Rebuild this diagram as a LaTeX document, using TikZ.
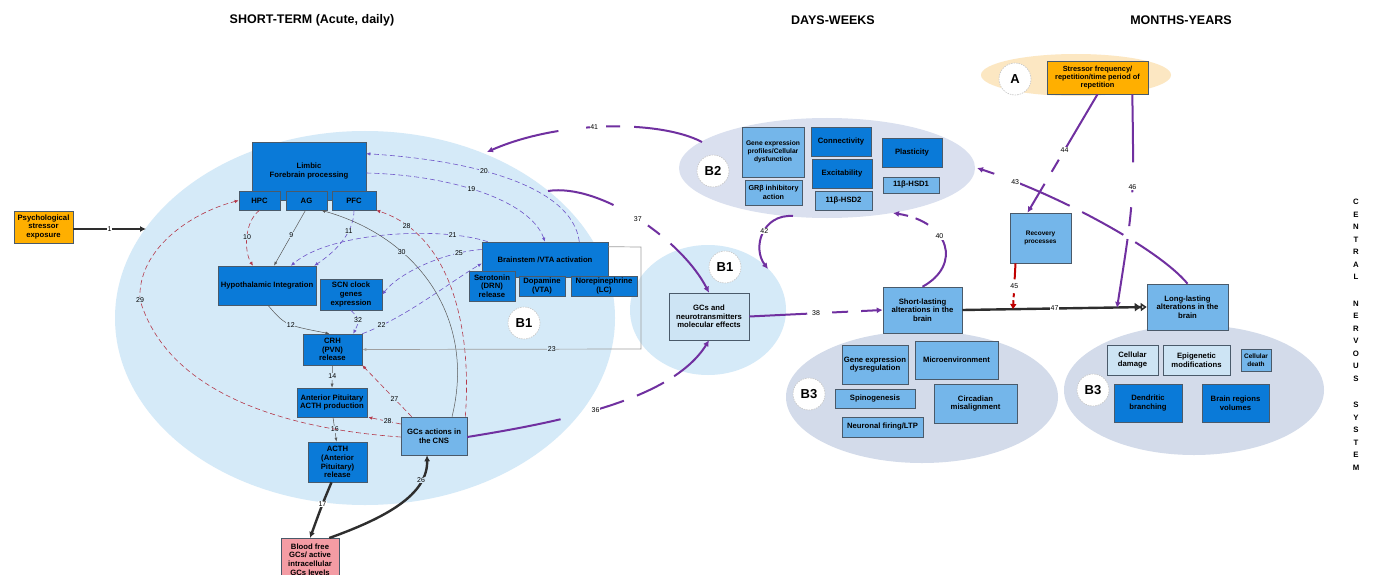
\documentclass[tikz,border=0pt]{standalone}
\usepackage{fontspec}
\setmainfont{Liberation Sans}
\usetikzlibrary{arrows.meta,calc,shapes.geometric}
\definecolor{dkb}{HTML}{0A7AD8}
\definecolor{ltb}{HTML}{74B6EA}
\definecolor{plb}{HTML}{CDE4F4}
\definecolor{ellbg}{HTML}{D5EAF8}
\definecolor{ellgr}{HTML}{DAE0EF}
\definecolor{ellgrb}{HTML}{D3DBEA}
\definecolor{ellor}{HTML}{FCE7C2}
\definecolor{orng}{HTML}{FFAF00}
\definecolor{pnk}{HTML}{F49CA4}
\definecolor{tpur}{HTML}{7030A0}
\definecolor{lpur}{HTML}{6F55C8}
\definecolor{rdash}{HTML}{B5394A}
\definecolor{rdk}{HTML}{C00000}
\definecolor{dkln}{HTML}{2E2E2E}
\definecolor{boxln}{HTML}{4A5A6A}
\begin{document}
\begin{tikzpicture}[x=1pt,y=-1pt,
 bx/.style={draw=boxln, line width=0.6pt, inner sep=1pt, align=center, font=\bfseries\fontsize{7.7}{8.7}\selectfont},
 dk/.style={bx, fill=dkb},
 lt/.style={bx, fill=ltb},
 pl/.style={bx, fill=plb},
 sz/.style 2 args={minimum width=#1pt, minimum height=#2pt},
 bc/.style={circle, fill=white, draw=gray!45, dash pattern=on 1.5pt off 1pt, line width=0.6pt, minimum size=32pt, inner sep=0pt, font=\bfseries\fontsize{13}{13}\selectfont},
 bgell/.style={ellipse, inner sep=0pt},
 lbl/.style={font=\fontsize{7}{7}\selectfont, inner sep=0.6pt},
 lw/.style={lbl, fill=white},
 lb/.style={lbl, fill=ellbg},
 thn/.style={draw=dkln!80, line width=0.5pt, -{Latex[length=4pt,width=3pt]}},
 pdash/.style={draw=lpur, line width=0.6pt, dash pattern=on 5pt off 3pt, -{Latex[length=4pt,width=3.5pt]}},
 rdsh/.style={draw=rdash, line width=0.6pt, dash pattern=on 5pt off 3pt, -{Latex[length=4pt,width=3.5pt]}},
 thk/.style={draw=dkln, line width=2.4pt, -{Latex[length=6pt,width=6pt]}},
 tp/.style={draw=tpur, line width=2pt, -{Latex[length=6pt,width=6pt]}},
 hdr/.style={font=\bfseries\fontsize{12.5}{12.5}\selectfont}
]
\useasboundingbox (0,0) rectangle (1375,575);
\fill[white] (0,0) rectangle (1375,575);

% background ellipses
\node[bgell, fill=ellbg, sz={500}{374}] (E0) at (365,318) {};
\node[bgell, fill=ellbg, sz={156}{130}] (E1) at (708,310) {};
\node[bgell, fill=ellgr, sz={296}{100}] (E2) at (827,168) {};
\node[bgell, fill=ellgrb, sz={272}{132}] (E3) at (922,397) {};
\node[bgell, fill=ellgrb, sz={260}{130}] (E4) at (1194,390) {};
\node[bgell, fill=ellor, sz={190}{42}] (EA) at (1076,75) {};

% headers
\node[hdr] (h1) at (312,20) {SHORT-TERM (Acute, daily)};
\node[hdr] (h2) at (833,20) {DAYS-WEEKS};
\node[hdr] (h3) at (1181,20) {MONTHS-YEARS};

% short-term nodes
\node[bx, fill=orng, sz={59}{32}] (psych) at (43.5,227) {Psychological\\stressor\\exposure};
\node[dk, sz={114}{58}] (limbic) at (309,171) {Limbic\\Forebrain processing};
\node[dk, sz={41}{19}] (hpc) at (259.5,200.5) {HPC};
\node[dk, sz={41}{19}] (ag) at (306.5,200.5) {AG};
\node[dk, sz={44}{19}] (pfc) at (354,200.5) {PFC};
\node[dk, sz={98}{39}] (hyp) at (267,285.5) {Hypothalamic Integration};
\node[dk, sz={62}{31}] (scn) at (351,294.5) {SCN clock\\genes\\expression};
\node[dk, sz={59}{31}] (crh) at (332.5,349.5) {CRH\\(PVN)\\release};
\node[dk, sz={70}{29}] (ap) at (332,402.5) {Anterior Pituitary\\ACTH production};
\node[dk, sz={59}{40}] (acth) at (337.5,462) {ACTH\\(Anterior\\Pituitary)\\release};
\node[lt, sz={66}{38}] (gcs) at (434,436) {GCs actions in\\the CNS};
\node[bx, fill=pnk, sz={58}{42}, anchor=north] (blood) at (310,538) {Blood free\\GCs/ active\\intracellular\\GCs levels};
\node[dk, sz={126}{35}] (brain) at (545,259.5) {\raisebox{-3pt}{Brainstem /VTA activation}};
\node[dk, sz={46}{30}] (ser) at (492,286) {Serotonin\\(DRN)\\release};
\node[dk, sz={46}{20}] (dop) at (542,286) {Dopamine\\(VTA)};
\node[dk, sz={66}{20}] (nor) at (604,286) {Norepinephrine\\(LC)};
\node[bc] (cba) at (524,323) {B1};

% B1
\node[bc] (cbb) at (725,267) {B1};
\node[pl, sz={80}{47}] (gcnt) at (709,316.5) {GCs and\\neurotransmitters\\molecular effects};

% B2
\node[bc] (cb2) at (713,171) {B2};
\node[lt, sz={62}{50}, font=\bfseries\fontsize{6.7}{8.2}\selectfont] (gep) at (773,152) {Gene expression\\profiles/Cellular\\dysfunction};
\node[lt, sz={57}{25}, inner sep=0.5pt, font=\bfseries\fontsize{7.2}{8.4}\selectfont] (grb) at (773.5,192.5) {GRβ inhibitory\\action};
\node[dk, sz={60}{29}] (conn) at (841,141.5) {Connectivity};
\node[dk, sz={60}{29}] (exc) at (842,173.5) {Excitability};
\node[lt, sz={57}{19}] (hsd2) at (843.5,200.5) {11β-HSD2};
\node[dk, sz={60}{29}] (plast) at (912,152.5) {Plasticity};
\node[lt, sz={56}{16}] (hsd1) at (911,185) {11β-HSD1};

% B3 middle
\node[lt, sz={79}{46}] (short) at (922.5,310) {Short-lasting\\alterations in the\\brain};
\node[bc] (cb3a) at (809,394) {B3};
\node[lt, sz={66}{39}] (ged) at (875,364.5) {Gene expression\\dysregulation};
\node[lt, sz={83}{38}] (micro) at (956.5,360) {Microenvironment};
\node[lt, sz={80}{19}] (spino) at (875,398.5) {Spinogenesis};
\node[lt, sz={83}{39}] (circ) at (975.5,403.5) {Circadian\\misalignment};
\node[lt, sz={81}{20}] (neur) at (882.5,427) {Neuronal firing/LTP};

% B3 right
\node[lt, sz={81}{46}] (long) at (1187.5,307) {Long-lasting\\alterations in the\\brain};
\node[bc] (cb3b) at (1093,390) {B3};
\node[pl, sz={51}{30}] (cdam) at (1132.5,360) {Cellular\\damage};
\node[pl, sz={67}{30}] (epi) at (1196.5,360) {Epigenetic\\modifications};
\node[lt, sz={30}{22}, inner sep=0.5pt, font=\bfseries\fontsize{6.5}{7.6}\selectfont] (cdeath) at (1256,360) {Cellular\\death};
\node[dk, sz={68}{38}] (dend) at (1148,403) {Dendritic\\branching};
\node[dk, sz={67}{38}] (brv) at (1235.5,403) {Brain regions\\volumes};

% A
\node[bc] (cA) at (1015,79) {A};
\node[bx, fill=orng, sz={101}{33}, font=\bfseries\fontsize{7.4}{8.4}\selectfont] (stress) at (1097.5,77.5) {Stressor frequency/\\repetition/time period of\\repetition};
\node[lt, sz={61}{50}, font=\bfseries\fontsize{6.5}{8}\selectfont] (recov) at (1040.5,238) {Recovery\\processes};

% CNS text
\node[anchor=north, inner sep=0pt, align=center, font=\bfseries\fontsize{7.8}{12.5}\selectfont] (cns) at (1356,199) {C\\E\\N\\T\\R\\A\\L\\[14pt]N\\E\\R\\V\\O\\U\\S\\[14pt]S\\Y\\S\\T\\E\\M};

% free connector ends
\coordinate (c1) at (146,229);
\coordinate (c37) at (548,191);
\coordinate (c41s) at (702,142);
\coordinate (c41e) at (487,152);
\coordinate (c42s) at (793,216);
\coordinate (c42e) at (768,269);
\coordinate (c40) at (893,213);
\coordinate (c43) at (977,168);
\coordinate (c45) at (1013,309);
\coordinate (c46) at (1117,308);

% connectors short-term
\draw[thk] ($(psych.east)+(0,2)$) -- node[lw]{1} (c1);
\draw[thn] ($(ag.south)+(-1,0)$) -- node[lb, pos=0.45]{9} ($(hyp.north)+(7,0)$);
\draw[rdsh] (hpc.south) .. controls (244,222) and (244,252) .. node[lb,pos=0.5]{10} ($(hyp.north)+(-14,0)$);
\draw[pdash] (pfc.south) .. controls (354,235) and (332,254) .. node[lb,pos=0.3]{11} ($(hyp.north east)+(-2,0)$);
\draw[thn] ($(hyp.south)+(1,0)$) .. controls (285,325) .. node[lb,pos=0.55]{12} ($(crh.north)+(-3,0)$);
\draw[pdash] (scn.south) .. controls (360,320) .. node[lb,pos=0.5]{32} ($(crh.north east)+(-9,0)$);
\draw[thn] (crh.south) -- node[lb]{14} (ap.north);
\draw[thn] ($(ap.south)+(1,0)$) -- node[lb]{16} ($(acth.north)+(-1,0)$);
\draw[pdash] (crh.north east) .. controls (405,318) and (450,282) .. node[lb,pos=0.15]{22} ($(brain.west)+(0,4)$);
\draw[pdash] ($(brain.west)+(0,-10)$) .. controls (445,252) and (400,272) .. node[lb,pos=0.2]{25} (scn.east);
\draw[pdash] ($(brain.north west)+(6,0)$) .. controls (440,226) and (330,232) .. node[lb,pos=0.2]{21} ($(hyp.north)+(24,0)$);
\draw[pdash] ($(limbic.east)+(0,2)$) .. controls (450,175) and (530,200) .. node[lb,pos=0.45]{19} (brain.north);
\draw[pdash] ($(brain.north east)+(-29,0)$) .. controls (572,185) and (470,160) .. node[lb,pos=0.6]{20} ($(limbic.north east)+(0,12)$);
\draw[rdsh] ($(gcs.north east)+(-2,0)$) .. controls (472,330) and (452,235) .. node[lb,pos=0.85]{28} (pfc.south east);
\draw[thn] ($(gcs.north)+(18,0)$) .. controls (476,320) and (420,238) .. node[lb,pos=0.68]{30} ($(ag.south east)+(-6,0)$);
\draw[rdsh] ($(gcs.north west)+(11,0)$) -- node[lb,pos=0.35]{27} (crh.south east);
\draw[rdsh] ($(gcs.west)+(0,-12)$) -- node[lb,pos=0.4]{28} ($(ap.south east)+(1,0)$);
\draw[rdsh] ($(gcs.west)+(0,1)$) .. controls (300,430) and (170,400) .. (140,300) node[lb]{29} .. controls (137,250) and (190,213) .. (hpc.west);
\draw[draw=gray!75, line width=0.7pt, -{Latex[length=4pt,width=3pt]}] ($(brain.north east)+(0,5)$) -- (641,247) -- (641,349) -- node[lb,pos=0.32]{23} (crh.east);
\draw[thk] ($(acth.south)+(-6,0)$) .. controls (322,505) .. node[lw,pos=0.45]{17} (blood.north);
\draw[thk] ($(blood.north east)+(-10,0)$) .. controls (385,518) and (428,495) .. node[lb,pos=0.77]{26} ($(gcs.south)+(-7,0)$);

% purple long connectors
\draw[tp, dash pattern=on 95pt off 40pt on 26pt off 14pt on 30pt off 12pt on 80pt] ($(gcs.east)+(0,1)$) .. controls (560,422) and (672,400) .. node[lw,pos=0.45]{36} (gcnt.south);
\draw[tp, dash pattern=on 68pt off 40pt on 15pt off 14pt on 80pt] (c37) .. controls (600,183) and (682,240) .. node[lw,pos=0.5]{37} (gcnt.north);
\draw[tp, dash pattern=on 58pt off 25pt on 16pt off 13pt on 40pt] (gcnt.east) -- node[lw,pos=0.5]{38} (short.west);
\draw[tp, dash pattern=on 70pt off 14pt on 14pt off 10pt on 10pt off 28pt on 90pt] (c41s) .. controls (660,120) and (560,120) .. node[lw,pos=0.55]{41} (c41e);
\draw[tp] (c42s) .. controls (762,214) and (752,248) .. node[lw,pos=0.45]{42} (c42e);
\draw[tp, dash pattern=on 62pt off 16pt on 14pt off 8pt on 40pt] (short.north) .. controls (962,265) and (950,222) .. node[lw,pos=0.6]{40} (c40);
\draw[draw=dkln, line width=2.4pt, -{Triangle[open,length=6pt,width=8pt,line width=1.5pt]Triangle[open,length=6pt,width=8pt,line width=1.5pt]}] (short.east) -- node[lw,pos=0.5]{47} (long.west);
\draw[draw=rdk, line width=2pt, dash pattern=on 16pt off 14pt on 4pt off 3pt on 20pt, -{Triangle[length=5pt,width=6pt]}] ($(recov.south)+(-25,0)$) -- node[lw,pos=0.5]{45} (c45);
\draw[tp, dash pattern=on 66pt off 10pt on 14pt off 14pt on 60pt] (stress.south) -- node[lw,pos=0.47]{44} ($(recov.north)+(-13,0)$);
\draw[tp, dash pattern=on 68pt off 25pt on 5pt off 15pt on 19pt off 13pt on 80pt] ($(stress.south east)+(-16,0)$) .. controls (1134,200) .. node[lw,pos=0.42]{46} (c46);
\draw[tp, dash pattern=on 67pt off 14pt on 47pt off 14pt on 60pt off 22pt on 30pt] (long.north) .. controls (1160,250) and (1060,195) .. node[lw,pos=0.85]{43} (c43);
\end{tikzpicture}
\end{document}
